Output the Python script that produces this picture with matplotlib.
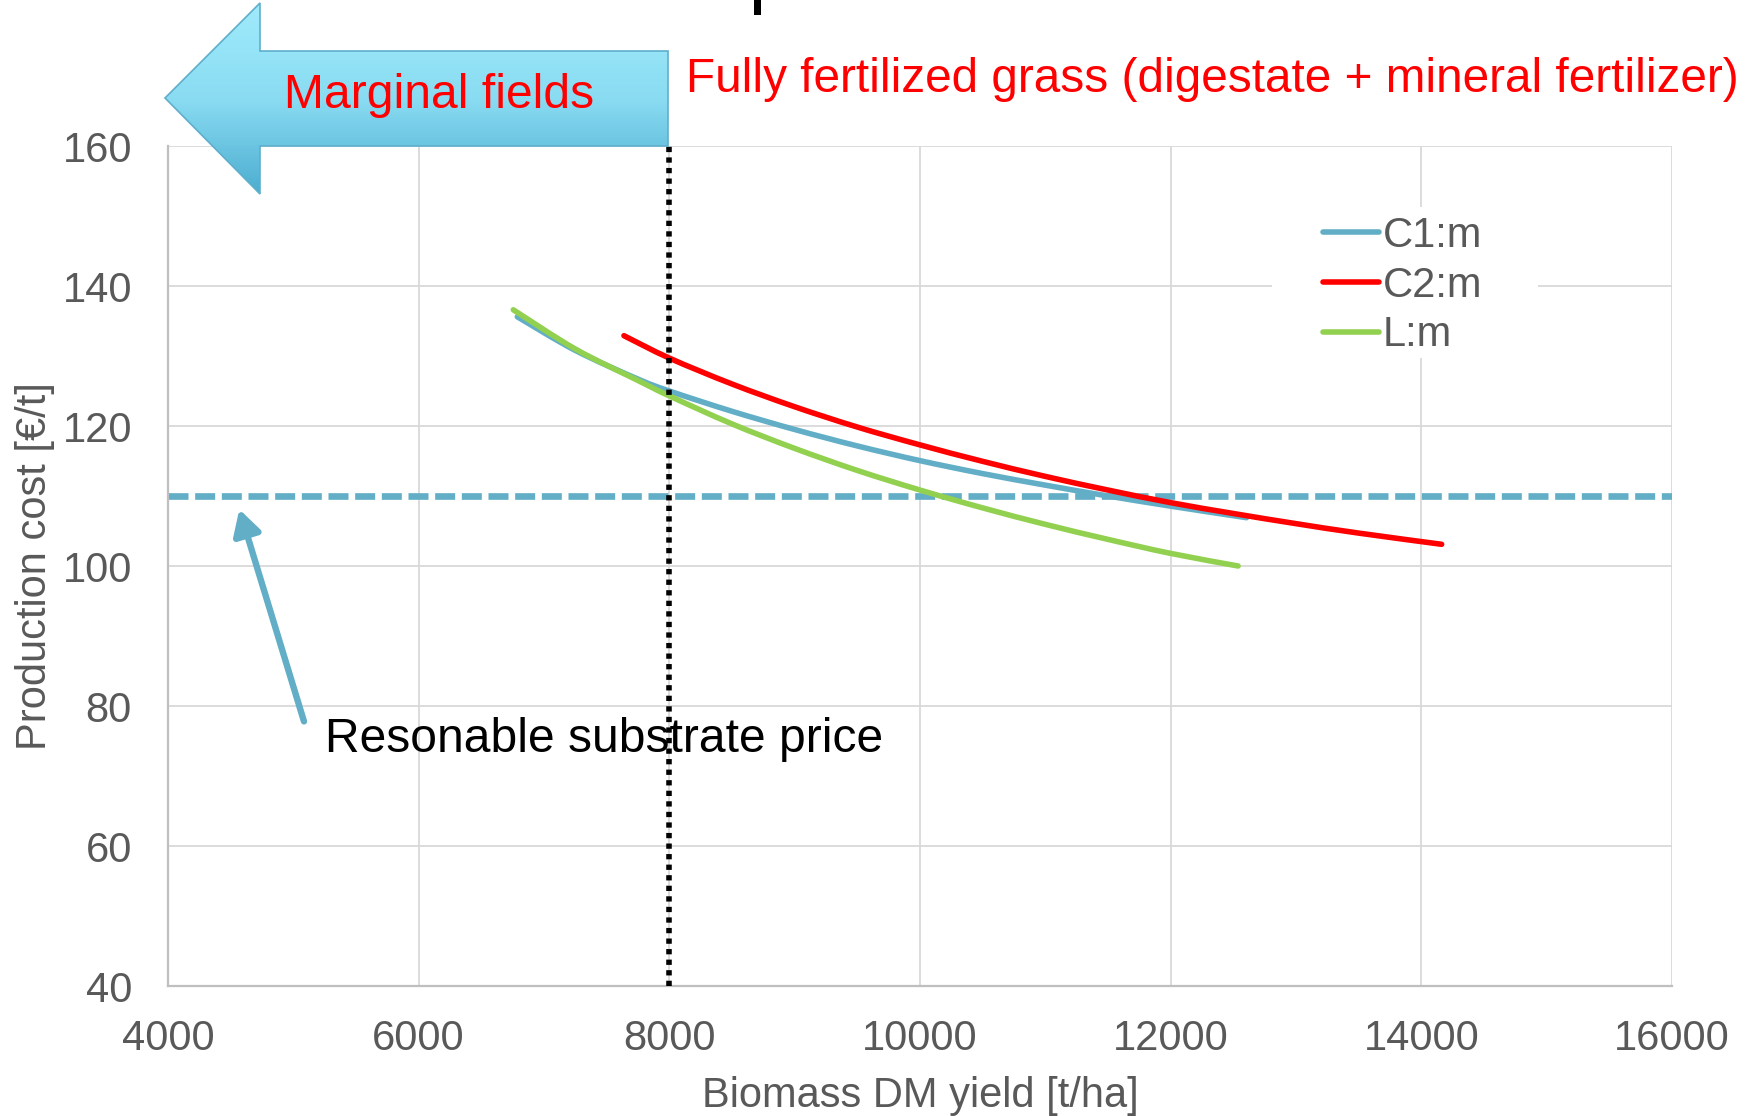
import numpy as np
import matplotlib
matplotlib.use("Agg")
import matplotlib.pyplot as plt
from matplotlib.patches import Polygon, Rectangle, PathPatch
from matplotlib.path import Path
from matplotlib.lines import Line2D
from matplotlib.colors import LinearSegmentedColormap

plt.rcParams['font.family'] = ['Liberation Sans', 'DejaVu Sans']

# --- data -----------------------------------------------------------------
c1_yield = [6787, 7250, 7750, 8000, 8500, 9000, 9500, 10000, 10500, 11000,
            11500, 12000, 12605]
c1_cost = [135.6, 130.8, 126.7, 125.0, 122.1, 119.5, 117.15, 115.05, 113.2,
           111.55, 110.0, 108.55, 106.9]

c2_yield = [7638, 8000, 8500, 9000, 9500, 10000, 10500, 11000, 11500, 12000,
            12500, 13000, 13500, 14162]
c2_cost = [132.9, 129.7, 126.0, 122.75, 119.85, 117.3, 114.95, 112.8, 110.85,
           109.05, 107.5, 106.05, 104.7, 103.1]

l_yield = [6755, 7250, 7750, 8000, 8500, 9000, 9500, 10000, 10500, 11000,
           11500, 12000, 12538]
l_cost = [136.6, 131.0, 126.5, 124.3, 120.3, 116.8, 113.65, 110.85, 108.3,
          105.95, 103.8, 101.8, 100.0]

series_labels = ['C1:m', 'C2:m', 'L:m']
series_colors = ['#62AEC7', '#FF0000', '#92D050']

substrate_price = 110          # reasonable substrate price [€/t]
marginal_limit = 8000          # yield limit of marginal fields [t/ha]

x_ticks = [4000, 6000, 8000, 10000, 12000, 14000, 16000]
y_ticks = [40, 60, 80, 100, 120, 140, 160]


def smooth_path(xs, ys):
    """Smoothed line through the points (Catmull-Rom as cubic Beziers)."""
    p = np.column_stack([xs, ys]).astype(float)
    ext = np.vstack([p[0], p, p[-1]])
    verts = [p[0]]
    codes = [Path.MOVETO]
    for i in range(len(p) - 1):
        p0, p1, p2, p3 = ext[i], ext[i + 1], ext[i + 2], ext[i + 3]
        verts += [p1 + (p2 - p0) / 6, p2 - (p3 - p1) / 6, p2]
        codes += [Path.CURVE4] * 3
    return Path(verts, codes)


# --- figure ---------------------------------------------------------------
W, H = 1762, 1116
fig = plt.figure(figsize=(W / 100, H / 100), dpi=100)
ax = fig.add_axes([168 / W, 1 - 986 / H, 1504 / W, 840 / H])

grey_txt = '#595959'
ax.set_xlim(4000, 16000)
ax.set_ylim(40, 160)
ax.set_xticks(x_ticks)
ax.set_yticks(y_ticks)
ax.set_axisbelow(True)
ax.grid(True, color='#D9D9D9', lw=1.3)
for s in ['top', 'right']:
    ax.spines[s].set_visible(False)
for s in ['left', 'bottom']:
    ax.spines[s].set_color('#BFBFBF')
    ax.spines[s].set_linewidth(1.6)
ax.tick_params(axis='both', length=0, labelsize=30, labelcolor=grey_txt)
ax.tick_params(axis='x', pad=24)
ax.tick_params(axis='y', pad=26)
ax.set_xlabel('Biomass DM yield [t/ha]', fontsize=30, color=grey_txt, labelpad=12)
ax.set_ylabel('Production cost [€/t]', fontsize=30, color=grey_txt, labelpad=5)

# reference price and marginal-field limit
ax.axhline(substrate_price, color='#62AEC7', lw=4.8, linestyle=(0, (3.0, 1.0)),
           zorder=1.5)
ax.axvline(marginal_limit, color='black', lw=4.0, linestyle=(0, (0.95, 0.95)),
           zorder=3)

# white backing behind the legend
ax.add_patch(Rectangle((0.734, 0.7476), 0.177, 0.18, transform=ax.transAxes,
                       facecolor='white', edgecolor='none', zorder=1))

lw_curve = 4.0
handles = []
for xs, ys, lab, col in zip([c1_yield, c2_yield, l_yield],
                            [c1_cost, c2_cost, l_cost],
                            series_labels, series_colors):
    ax.add_patch(PathPatch(smooth_path(xs, ys), facecolor='none', edgecolor=col,
                           lw=lw_curve, capstyle='round', joinstyle='round',
                           zorder=2))
    handles.append(Line2D([], [], color=col, lw=lw_curve,
                          solid_capstyle='round', label=lab))

leg = ax.legend(handles=handles, loc='upper left', bbox_to_anchor=(0.768, 0.917),
                frameon=False, fontsize=30, borderpad=0, borderaxespad=0,
                handlelength=1.34, handletextpad=0.1, labelspacing=0.235)
for t in leg.get_texts():
    t.set_color(grey_txt)

# annotation arrow pointing at the price line
ax.annotate('', xy=(4569, 108.1), xytext=(5085, 77.8),
            arrowprops=dict(arrowstyle='-|>,head_length=0.75,head_width=0.42',
                            color='#62AEC7', lw=4.6, shrinkA=0, shrinkB=0,
                            mutation_scale=20),
            zorder=4)
ax.text(5252, 73.4, 'Resonable substrate price', fontsize=34.6, color='black',
        ha='left', va='baseline', zorder=5)

# --- overlay in pixel coordinates for the header graphics ----------------
ov = fig.add_axes([0, 0, 1, 1], zorder=5)
ov.patch.set_alpha(0)
ov.axis('off')

arrow_pts = [(165, 98), (260, 3), (260, 51), (668, 51), (668, 146),
             (260, 146), (260, 194)]
arrow = Polygon(arrow_pts, closed=True, facecolor='none',
                edgecolor='#5FAFCB', lw=1.2)
ov.add_patch(arrow)
cmap = LinearSegmentedColormap.from_list('sky', ['#A0EBFC', '#8ADCF2', '#4CADD0'])
grad = np.linspace(0, 1, 256).reshape(-1, 1)
img = ov.imshow(grad, cmap=cmap, extent=(165, 668, 194, 3), aspect='auto',
                interpolation='bilinear')
img.set_clip_path(arrow)
ov.set_xlim(0, W)
ov.set_ylim(H, 0)

ov.text(284, 108, 'Marginal fields', fontsize=34.6, color='#FF0000',
        ha='left', va='baseline')
ov.text(686, 92, 'Fully fertilized grass (digestate + mineral fertilizer)',
        fontsize=34.4, color='#FF0000', ha='left', va='baseline')
ov.add_patch(Rectangle((754, 0), 7, 15, facecolor='black', edgecolor='none'))

fig.savefig('out.png', dpi=100)
